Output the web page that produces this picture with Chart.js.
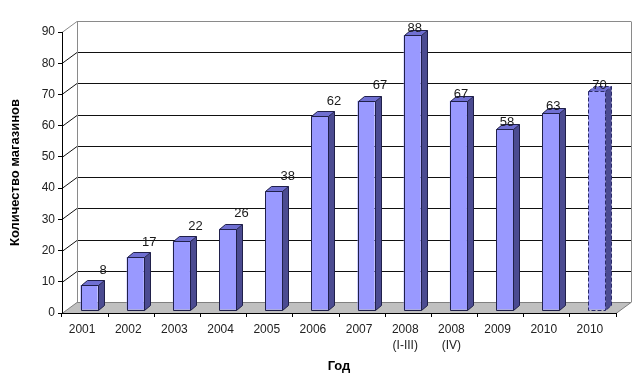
<!DOCTYPE html>
<html lang="ru">
<head>
<meta charset="utf-8">
<script src="https://cdn.jsdelivr.net/npm/chart.js@4.4.0/dist/chart.umd.min.js"></script>
<style>
  html, body { margin: 0; padding: 0; background: #fff; }
</style>
</head>
<body>
<canvas id="shops" width="640" height="377"></canvas>
<script>
  // ---------------------------------------------------------------
  // data
  // ---------------------------------------------------------------
  const years = ["2001", "2002", "2003", "2004", "2005", "2006", "2007",
    ["2008", "(I-III)"], ["2008", "(IV)"], "2009", "2010", "2010"];
  const shopCounts = [8, 17, 22, 26, 38, 62, 67, 88, 67, 58, 63, 70];
  const forecastIndex = 11;      // last bar is the plan, drawn dashed
  const yMax = 90;
  const yStep = 10;

  // 3d look (excel style)
  const WALL_DX = 15, WALL_DY = 11;   // back wall offset
  const SHIFT_X = 4, SHIFT_Y = 3;     // bars stand a bit back from the front edge
  const BAR_DX = 6, BAR_DY = 5;       // bar depth

  const FONT = "Arial, 'Liberation Sans', sans-serif";

  function poly(ctx, pts) {
    ctx.beginPath();
    ctx.moveTo(pts[0][0], pts[0][1]);
    for (let i = 1; i < pts.length; i++) ctx.lineTo(pts[i][0], pts[i][1]);
    ctx.closePath();
  }

  const box3d = {
    id: "box3d",
    beforeDraw(chart) {
      const { ctx, chartArea: a, scales: { y } } = chart;
      ctx.save();
      ctx.fillStyle = "#fff";
      ctx.fillRect(0, 0, chart.width, chart.height);
      ctx.lineWidth = 1;

      // floor
      const b = Math.round(a.bottom) + 0.5;
      poly(ctx, [[a.left, b], [a.right, b], [a.right + WALL_DX, b - WALL_DY], [a.left + WALL_DX, b - WALL_DY]]);
      ctx.fillStyle = "#c0c0c0";
      ctx.fill();
      ctx.strokeStyle = "#808080";
      ctx.stroke();

      // walls: gridlines run along the side wall then across the back
      y.ticks.forEach(t => {
        if (t.value === 0) return;
        const py = Math.round(y.getPixelForValue(t.value)) + 0.5;
        ctx.strokeStyle = t.value === yMax ? "#8a8a8a" : "#111";
        ctx.beginPath();
        ctx.moveTo(a.left, py);
        ctx.lineTo(a.left + WALL_DX, py - WALL_DY);
        ctx.lineTo(a.right + WALL_DX, py - WALL_DY);
        ctx.stroke();
      });

      const top = Math.round(a.top) + 0.5 - WALL_DY;
      ctx.strokeStyle = "#8a8a8a";
      ctx.beginPath();
      ctx.moveTo(a.left + WALL_DX + 0.5, top);
      ctx.lineTo(a.left + WALL_DX + 0.5, b - WALL_DY);
      ctx.moveTo(a.right + WALL_DX + 0.5, top);
      ctx.lineTo(a.right + WALL_DX + 0.5, b - WALL_DY);
      ctx.stroke();
      ctx.restore();
    },
    beforeDatasetsDraw(chart) {
      chart.ctx.save();
      chart.ctx.translate(SHIFT_X, -SHIFT_Y);
    },
    afterDatasetsDraw(chart) {
      const ctx = chart.ctx;
      const meta = chart.getDatasetMeta(0);

      meta.data.forEach((bar, i) => {
        const { x, y, base, width } = bar.getProps(["x", "y", "base", "width"], true);
        const l = Math.round(x - width / 2) + 0.5;
        const r = Math.round(x + width / 2) + 0.5;
        const t = Math.round(y) + 0.5;
        const bt = Math.round(base) + 0.5;

        // side + top faces
        poly(ctx, [[r, t], [r + BAR_DX, t - BAR_DY], [r + BAR_DX, bt - BAR_DY], [r, bt]]);
        ctx.fillStyle = "#4b4b91";
        ctx.fill();
        poly(ctx, [[l, t], [l + BAR_DX, t - BAR_DY], [r + BAR_DX, t - BAR_DY], [r, t]]);
        ctx.fillStyle = "#6f6fd2";
        ctx.fill();

        // outline
        ctx.lineWidth = 1;
        if (i === forecastIndex) {
          ctx.setLineDash([4, 2]);
          ctx.strokeStyle = "#2a2a6a";
        } else {
          ctx.setLineDash([]);
          ctx.strokeStyle = "#20204a";
        }
        ctx.beginPath();
        ctx.rect(l, t, r - l, bt - t);
        ctx.moveTo(l, t);
        ctx.lineTo(l + BAR_DX, t - BAR_DY);
        ctx.lineTo(r + BAR_DX, t - BAR_DY);
        ctx.lineTo(r + BAR_DX, bt - BAR_DY);
        ctx.lineTo(r, bt);
        ctx.moveTo(r, t);
        ctx.lineTo(r + BAR_DX, t - BAR_DY);
        ctx.stroke();
      });
      ctx.setLineDash([]);
      ctx.restore();

      // value labels
      ctx.save();
      ctx.font = "13px " + FONT;
      ctx.fillStyle = "#1a1a1a";
      ctx.textAlign = "center";
      ctx.textBaseline = "middle";
      meta.data.forEach((bar, i) => {
        const cx = bar.x + SHIFT_X;
        const cy = bar.y - SHIFT_Y;
        // from 2008 on the labels sit right on the bar top
        if (i < 7) ctx.fillText(String(shopCounts[i]), cx + 14, cy - 15);
        else ctx.fillText(String(shopCounts[i]), cx + 2.5, cy - 6.5);
      });
      ctx.restore();
    }
  };

  new Chart(document.getElementById("shops").getContext("2d"), {
    type: "bar",
    data: {
      labels: years,
      datasets: [{
        data: shopCounts,
        backgroundColor: "#9999ff",
        borderWidth: 0,
        categoryPercentage: 1,
        barPercentage: 0.37
      }]
    },
    plugins: [box3d],
    options: {
      responsive: false,
      animation: false,
      devicePixelRatio: 1,
      layout: { padding: { top: 32, right: 24, left: 0, bottom: 0 } },
      plugins: { legend: { display: false }, tooltip: { enabled: false } },
      scales: {
        x: {
          offset: true,
          grid: { drawOnChartArea: false, tickLength: 4, color: "#000", offset: true },
          border: { color: "#000" },
          ticks: {
            color: "#222",
            font: { family: FONT, size: 12, lineHeight: 1.3 },
            padding: 5,
            maxRotation: 0,
            autoSkip: false,
            labelOffset: -3
          },
          title: {
            display: true,
            text: "Год",
            color: "#000",
            font: { family: FONT, size: 13, weight: "bold" },
            padding: { top: 0, bottom: 3 }
          },
          afterFit(s) { s.height = 64; }
        },
        y: {
          min: 0,
          max: yMax,
          grid: { drawOnChartArea: false, tickLength: 4, color: "#000" },
          border: { color: "#000" },
          ticks: {
            stepSize: yStep,
            color: "#222",
            font: { family: FONT, size: 12 },
            padding: 3
          },
          title: {
            display: true,
            text: "Количество магазинов",
            color: "#000",
            font: { family: FONT, size: 13, weight: "bold" },
            padding: { top: 8, bottom: 0 }
          },
          afterFit(s) { s.width = 62; }
        }
      }
    }
  });
</script>
</body>
</html>
